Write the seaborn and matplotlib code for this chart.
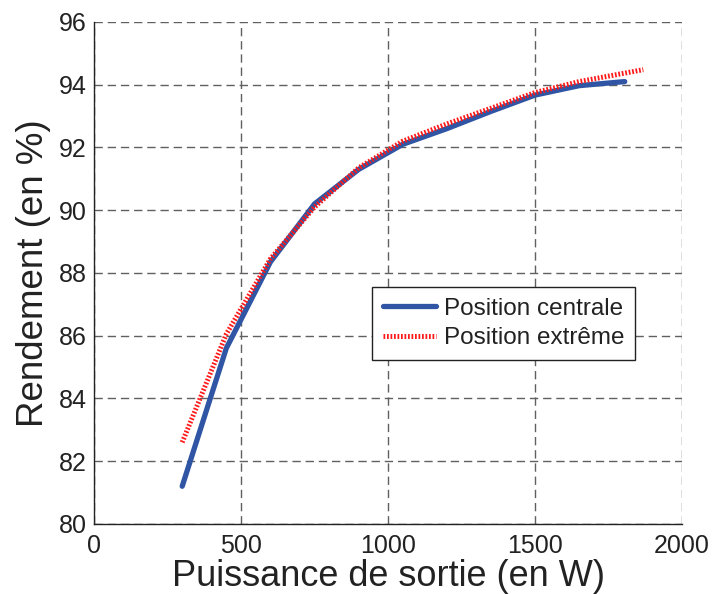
import pandas as pd
import matplotlib
matplotlib.use("Agg")
import matplotlib.pyplot as plt
import seaborn as sns

# puissance de sortie (W) et rendement (%)
p_centrale = [300, 450, 600, 750, 900, 1050, 1200, 1350, 1500, 1650, 1805]
r_centrale = [81.2, 85.6, 88.35, 90.2, 91.3, 92.1, 92.6, 93.15, 93.67, 93.97, 94.1]

p_extreme = [300, 450, 600, 750, 900, 1050, 1200, 1350, 1500, 1650, 1868]
r_extreme = [82.6, 86.05, 88.45, 90.1, 91.35, 92.2, 92.75, 93.25, 93.75, 94.1, 94.48]

series_names = ["Position centrale", "Position extrême"]
x_ticks = [0, 500, 1000, 1500, 2000]
y_ticks = [80, 82, 84, 86, 88, 90, 92, 94, 96]


def main():
    sns.set_style("white")
    plt.rcParams["font.family"] = ["Liberation Sans", "DejaVu Sans"]

    df = pd.concat([
        pd.DataFrame({"P": p_centrale, "R": r_centrale, "serie": series_names[0]}),
        pd.DataFrame({"P": p_extreme, "R": r_extreme, "serie": series_names[1]}),
    ])

    fig = plt.figure(figsize=(7.12, 5.94), dpi=100)
    ax = fig.add_axes([0.132, 0.118, 0.826, 0.845])

    sns.lineplot(data=df[df.serie == series_names[0]], x="P", y="R", ax=ax,
                 color="#2f55a4", lw=3.8, label=series_names[0], sort=False)
    sns.lineplot(data=df[df.serie == series_names[1]], x="P", y="R", ax=ax,
                 color="#ff1a1a", lw=3.6, label=series_names[1], sort=False,
                 dashes=False)
    ax.lines[1].set_linestyle((0, (0.35, 0.35)))

    ax.set_xlim(0, 2000)
    ax.set_ylim(80, 96)
    ax.set_xticks(x_ticks)
    ax.set_yticks(y_ticks)
    ax.tick_params(direction="in", length=5, labelsize=18, color="#222222",
                   labelcolor="#222222")
    ax.tick_params(axis="y", pad=5)
    ax.tick_params(axis="x", pad=7)
    ax.grid(True, linestyle=(0, (6, 3.5)), color="#606060", lw=1)

    for s in ["top", "right"]:
        ax.spines[s].set_visible(False)
    for s in ["left", "bottom"]:
        ax.spines[s].set_color("#222222")
        ax.spines[s].set_linewidth(1)

    ax.set_xlabel("Puissance de sortie (en W)", fontsize=26, color="#222222", labelpad=1)
    ax.set_ylabel("Rendement (en %)", fontsize=26.5, color="#222222", labelpad=6)

    leg = ax.legend(loc="upper right", bbox_to_anchor=(0.92, 0.472), fontsize=17.5,
                    frameon=True, fancybox=False, edgecolor="#222222",
                    handlelength=2.2, handletextpad=0.3, borderpad=0.45,
                    labelspacing=0.3, borderaxespad=0)
    leg.get_frame().set_linewidth(1)
    leg.get_frame().set_alpha(1)
    for t in leg.get_texts():
        t.set_color("#222222")

    fig.savefig("out.png", dpi=100)


if __name__ == "__main__":
    main()
